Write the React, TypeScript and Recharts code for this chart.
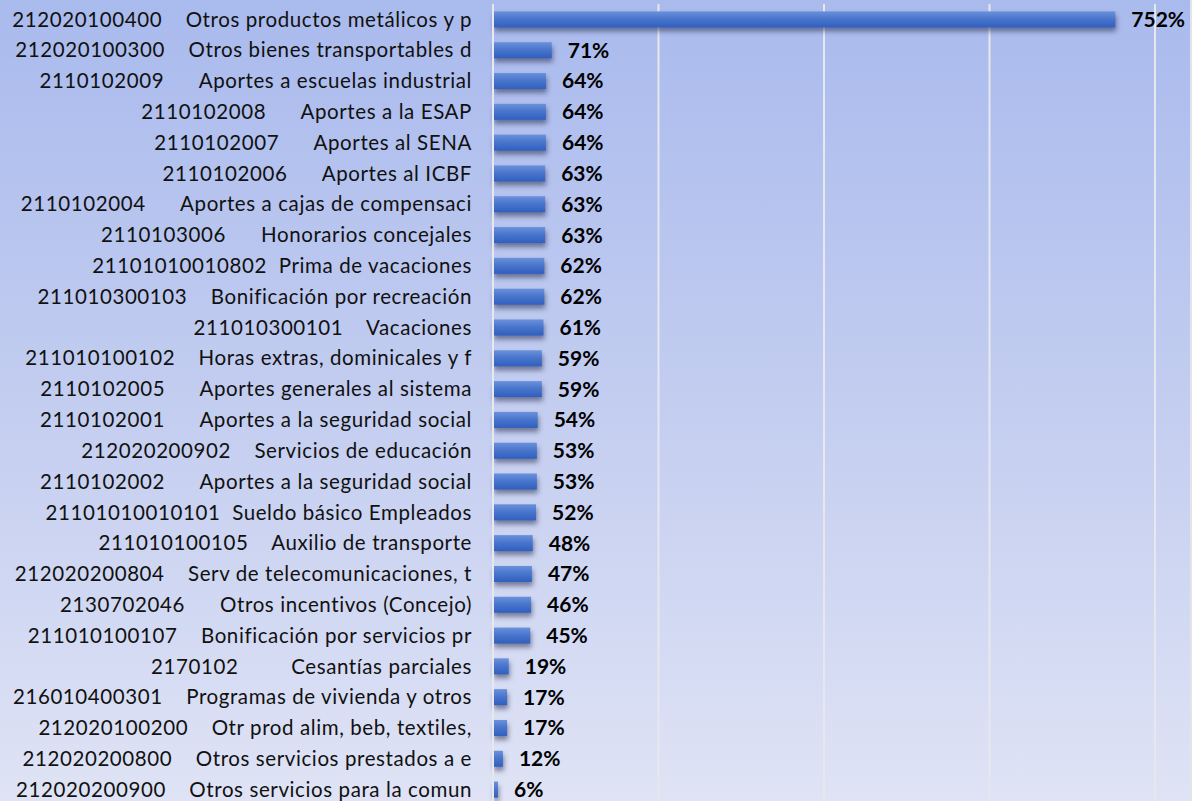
import { BarChart, Bar, XAxis, YAxis, CartesianGrid, LabelList } from 'recharts';

const codes = [
  '212020100400', '212020100300', '2110102009', '2110102008', '2110102007',
  '2110102006', '2110102004', '2110103006', '21101010010802', '211010300103',
  '211010300101', '211010100102', '2110102005', '2110102001', '212020200902',
  '2110102002', '21101010010101', '211010100105', '212020200804', '2130702046',
  '211010100107', '2170102', '216010400301', '212020100200', '212020200800',
  '212020200900',
];

const names = [
  'Otros productos metálicos y p', 'Otros bienes transportables d', 'Aportes a escuelas industrial',
  'Aportes a la ESAP', 'Aportes al SENA', 'Aportes al ICBF', 'Aportes a cajas de compensaci',
  'Honorarios concejales', 'Prima de vacaciones', 'Bonificación por recreación', 'Vacaciones',
  'Horas extras, dominicales y f', 'Aportes generales al sistema', 'Aportes a la seguridad social',
  'Servicios de educación', 'Aportes a la seguridad social', 'Sueldo básico Empleados',
  'Auxilio de transporte', 'Serv de telecomunicaciones, t', 'Otros incentivos (Concejo)',
  'Bonificación por servicios pr', 'Cesantías parciales', 'Programas de vivienda y otros',
  'Otr prod alim, beb, textiles,', 'Otros servicios prestados a e', 'Otros servicios para la comun',
];

// execution percentage
const values = [
  752, 71, 64, 64, 64, 63, 63, 63, 62, 62, 61, 59, 59, 54, 53, 53, 52, 48, 47, 46, 45, 19, 17, 17, 12, 6,
];

const xTicks = [0, 200, 400, 600, 800];

const data = codes.map((code, i) => ({ code, name: names[i], value: values[i] }));

const FONT = 'Lato, "Open Sans", sans-serif';

// gap between code and description, wider for shorter codes
const gapFor = (code: string) => {
  if (code.length >= 14) return '  ';
  if (code.length >= 12) return '    ';
  if (code.length >= 10) return '      ';
  return '         ';
};

const CategoryTick = (props: any) => {
  const { x, y, payload } = props;
  const row = data[payload.index];
  const label = row ? `${row.code}${gapFor(row.code)}${row.name}` : payload.value;
  return (
    <text
      x={x}
      y={y}
      dy="0.35em"
      textAnchor="end"
      fill="#111"
      fontSize={20.5}
      fontFamily={FONT}
      letterSpacing={0.6}
      style={{ whiteSpace: 'pre' }}
    >
      {label}
    </text>
  );
};

const ShadowBar = (props: any) => {
  const { x, y, width, height } = props;
  if (!(width > 0) || !(height > 0)) return null;
  return (
    <rect
      x={x}
      y={y}
      width={width}
      height={height}
      fill="url(#barGrad) #4472c4"
      style={{ filter: 'drop-shadow(1px 4px 2.5px rgba(26, 32, 64, 0.5))' }}
    />
  );
};

export default function App() {
  return (
    <div
      style={{
        position: 'absolute',
        left: 0,
        top: 0,
        width: 1200,
        height: 801,
        overflow: 'hidden',
        background: '#fff',
      }}
    >
      <svg width={1} height={1} style={{ position: 'absolute', left: 0, top: 0 }}>
        <defs>
          <linearGradient id="barGrad" x1="0" y1="0" x2="0" y2="1">
            <stop offset="0%" stopColor="#6a91dc" />
            <stop offset="45%" stopColor="#4a76cc" />
            <stop offset="100%" stopColor="#2f5fc0" />
          </linearGradient>
        </defs>
      </svg>
      <div
        style={{
          position: 'absolute',
          left: 0,
          top: 0,
          width: 1190,
          height: 801,
          background: 'linear-gradient(to bottom, #a9baed 0%, #c3cdf0 50%, #dfe3f5 100%)',
          borderRight: '2px solid #e2e4ea',
        }}
      />
      <div style={{ position: 'absolute', left: 0, top: 0 }}>
        <BarChart
          width={1200}
          height={805}
          data={data}
          layout="vertical"
          barCategoryGap="24%"
          margin={{ top: 4, right: 45, bottom: 0, left: 0 }}
        >
          <CartesianGrid horizontal={false} stroke="#e6e8ee" strokeWidth={2} />
          <XAxis type="number" domain={[0, 800]} ticks={xTicks} hide />
          <YAxis
            type="category"
            dataKey="code"
            width={493}
            tickLine={false}
            axisLine={{ stroke: '#e6e8ee', strokeWidth: 2 }}
            tickSize={0}
            tickMargin={21}
            interval={0}
            tick={<CategoryTick />}
          />
          <Bar dataKey="value" isAnimationActive={false} shape={<ShadowBar />}>
            <LabelList
              dataKey="value"
              position="right"
              offset={16}
              formatter={(v: any) => `${v}%`}
              style={{ fontWeight: 700, fontSize: 21, fill: '#000', fontFamily: FONT }}
            />
          </Bar>
        </BarChart>
      </div>
    </div>
  );
}
